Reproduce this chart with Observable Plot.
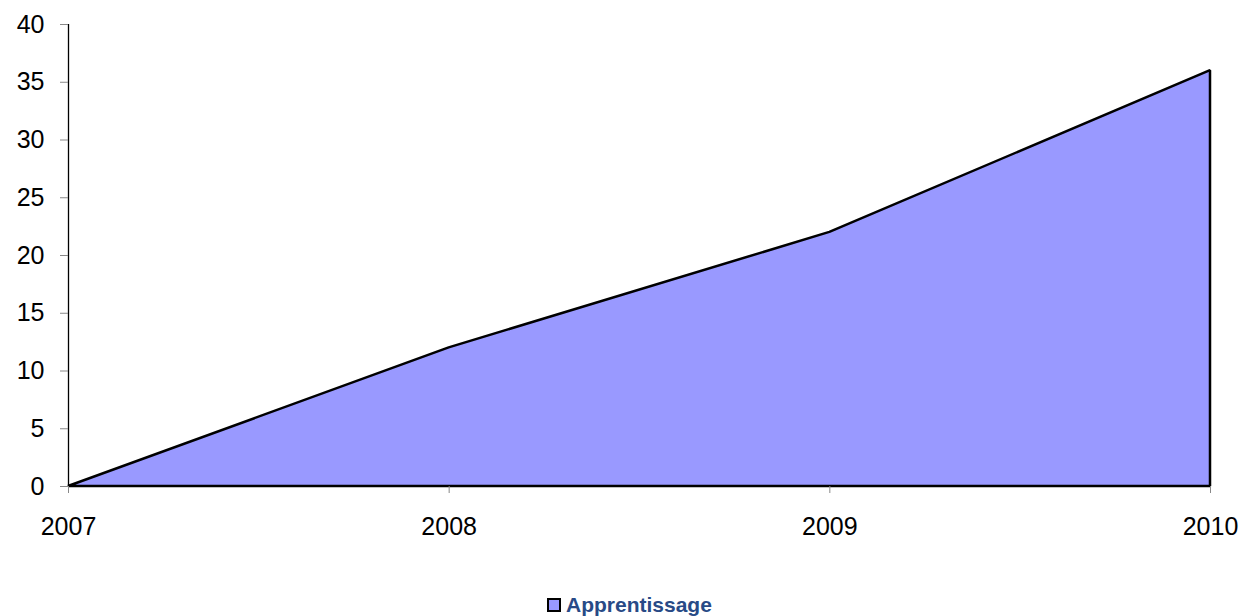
<!DOCTYPE html>
<html>
<head>
<meta charset="utf-8">
<script src="https://cdn.jsdelivr.net/npm/d3@7"></script>
<script src="https://cdn.jsdelivr.net/npm/@observablehq/plot@0.6"></script>
<style>
  html, body { margin: 0; padding: 0; background: #fff; }
  body { width: 1242px; height: 616px; position: relative; overflow: hidden; font-family: "Liberation Sans", Arial, sans-serif; }
  #legend { position: absolute; top: 594px; left: 547px; display: flex; align-items: center; gap: 5px;
    font-weight: bold; font-size: 21px; color: #284a86; line-height: 22px; }
  #legend .sw { width: 10px; height: 10px; background: #9999FF; border: 2px solid #000; }
</style>
</head>
<body>
<div id="chart"></div>
<div id="legend"><span class="sw"></span><span>Apprentissage</span></div>
<script>
const years = [2007, 2008, 2009, 2010];
const apprentissage = [0, 12, 22, 36];
const yTicks = [0, 5, 10, 15, 20, 25, 30, 35, 40];
const seriesName = "Apprentissage";

const data = years.map((y, i) => ({year: y, value: apprentissage[i]}));

const chart = Plot.plot({
  width: 1242,
  height: 580,
  marginTop: 24,
  marginBottom: 94,
  marginLeft: 68,
  marginRight: 32,
  style: {fontFamily: "'Liberation Sans', Arial, sans-serif", fontSize: "25px", color: "#000", background: "#fff"},
  x: {domain: [2007, 2010]},
  y: {domain: [0, 40]},
  marks: [
    Plot.areaY(data, {x: "year", y: "value", fill: "#9999FF", stroke: "#000", strokeWidth: 2.5, strokeLinejoin: "miter"}),
    Plot.ruleX([2007], {y1: 0, y2: 40, stroke: "#000", strokeWidth: 1.3}),
    Plot.axisY({ticks: yTicks, tickSize: 8, tickPadding: 16, stroke: "#888", tickFormat: d => String(d), label: null, fill: "#000", fontSize: 25}),
    Plot.axisX({ticks: years, tickSize: 7, tickPadding: 24, stroke: "#888", tickFormat: d => String(d), label: null, fill: "#000", fontSize: 25})
  ]
});
document.getElementById("chart").appendChild(chart);
</script>
</body>
</html>
